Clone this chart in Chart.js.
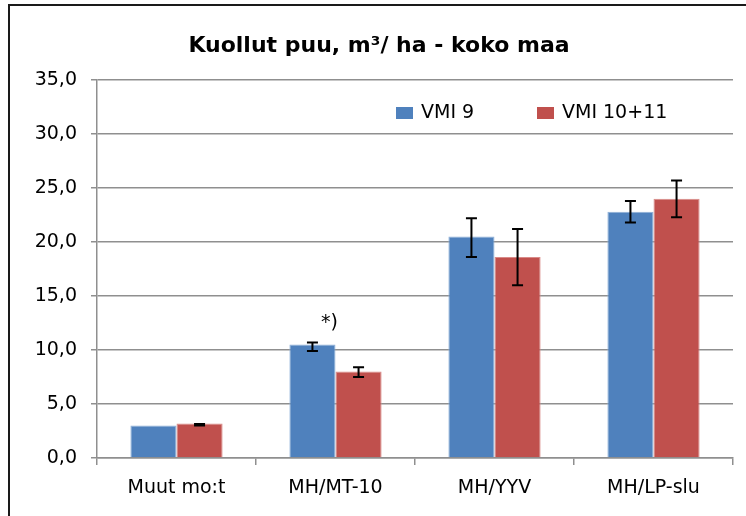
<!DOCTYPE html>
<html>
<head>
<meta charset="utf-8">
<script src="https://cdn.jsdelivr.net/npm/chart.js@4"></script>
<style>
  html, body { margin: 0; padding: 0; background: #fff; }
  #wrap { width: 746px; height: 516px; }
</style>
</head>
<body>
<div id="wrap"><canvas id="chart" width="746" height="516"></canvas></div>
<script>
// chart values
const categories = ['Muut mo:t', 'MH/MT-10', 'MH/YYV', 'MH/LP-slu'];
const seriesNames = ['VMI 9', 'VMI 10+11'];
const vmi9 = [3.0, 10.5, 20.5, 22.8];
const vmi9Low = [3.0, 9.9, 18.6, 21.8];
const vmi9High = [3.0, 10.7, 22.2, 23.8];
const vmi1011 = [3.2, 8.0, 18.6, 24.0];
const vmi1011Low = [3.0, 7.5, 16.0, 22.3];
const vmi1011High = [3.15, 8.4, 21.2, 25.7];
const yMin = 0, yMax = 35, yStep = 5;
const noteText = '*)';
const noteCategory = 1;
const noteValue = 12.5;

const blue = '#4F81BD';
const red = '#C0504D';
const gridGray = '#8f8f8f';
const fontFamily = 'DejaVu Sans';

// white background + outer frame
const framePlugin = {
    id: 'frame',
    beforeDraw(chart) {
        const ctx = chart.ctx;
        ctx.save();
        ctx.fillStyle = '#fff';
        ctx.fillRect(0, 0, chart.width, chart.height);
        ctx.strokeStyle = '#1a1a1a';
        ctx.lineWidth = 2;
        ctx.beginPath();
        ctx.moveTo(9, chart.height);
        ctx.lineTo(9, 5);
        ctx.lineTo(chart.width, 5);
        ctx.stroke();
        ctx.restore();
    }
};

// error bars, drawn on top of each bar
const errorBarPlugin = {
    id: 'errorBars',
    afterDatasetsDraw(chart) {
        const ctx = chart.ctx;
        const yScale = chart.scales.y;
        ctx.save();
        ctx.strokeStyle = '#000';
        ctx.lineWidth = 2;
        chart.data.datasets.forEach((ds, i) => {
            const meta = chart.getDatasetMeta(i);
            meta.data.forEach((bar, j) => {
                const lo = ds.errLow[j], hi = ds.errHigh[j];
                if (lo === hi) return;
                const yLo = yScale.getPixelForValue(lo);
                const yHi = yScale.getPixelForValue(hi);
                const x = bar.x;
                ctx.beginPath();
                ctx.moveTo(x, yLo); ctx.lineTo(x, yHi);
                ctx.moveTo(x - 5.5, yLo); ctx.lineTo(x + 5.5, yLo);
                ctx.moveTo(x - 5.5, yHi); ctx.lineTo(x + 5.5, yHi);
                ctx.stroke();
            });
        });
        ctx.restore();
    }
};

// legend inside the plot and the "*)" note
const legendNotePlugin = {
    id: 'legendNote',
    afterDraw(chart) {
        const ctx = chart.ctx;
        const area = chart.chartArea;
        const yScale = chart.scales.y;
        const xScale = chart.scales.x;
        ctx.save();
        ctx.font = '19px "' + fontFamily + '"';
        ctx.textBaseline = 'middle';
        ctx.fillStyle = '#000';
        const ly = area.top + 33;
        const starts = [396, 537];
        chart.data.datasets.forEach((ds, i) => {
            ctx.fillStyle = ds.backgroundColor;
            ctx.fillRect(starts[i], ly - 6, 17, 12);
            ctx.fillStyle = '#000';
            ctx.fillText(ds.label, starts[i] + 25, ly);
        });
        ctx.textAlign = 'center';
        ctx.fillText(noteText, xScale.getPixelForValue(noteCategory) - 6, yScale.getPixelForValue(noteValue));
        ctx.restore();
    }
};

const ctx = document.getElementById('chart').getContext('2d');
new Chart(ctx, {
    type: 'bar',
    data: {
        labels: categories,
        datasets: [{
            label: seriesNames[0],
            data: vmi9,
            errLow: vmi9Low,
            errHigh: vmi9High,
            backgroundColor: blue,
            borderColor: '#8fb0d8',
            borderWidth: 1
        }, {
            label: seriesNames[1],
            data: vmi1011,
            errLow: vmi1011Low,
            errHigh: vmi1011High,
            backgroundColor: red,
            borderColor: '#d98a88',
            borderWidth: 1
        }]
    },
    options: {
        responsive: false,
        animation: false,
        categoryPercentage: 0.58,
        barPercentage: 1.0,
        // left padding pushes the title to the right, y axis width makes up the rest
        layout: { padding: { left: 25, right: 13, top: 0, bottom: 0 } },
        plugins: {
            legend: { display: false },
            tooltip: { enabled: false },
            title: {
                display: true,
                text: 'Kuollut puu, m³/ ha - koko maa',
                color: '#000',
                font: { family: fontFamily, size: 22, weight: 'bold', lineHeight: 1.2 },
                padding: { top: 33, bottom: 20.6 }
            }
        },
        scales: {
            x: {
                grid: { display: true, drawOnChartArea: false, drawTicks: true, tickLength: 7, color: gridGray, lineWidth: 1.5 },
                border: { color: gridGray, width: 1.5 },
                ticks: { color: '#000', padding: 12, font: { family: fontFamily, size: 19 } },
                afterFit(scale) { scale.height = 58; }
            },
            y: {
                min: yMin,
                max: yMax,
                grid: { color: gridGray, lineWidth: 1.5, tickLength: 6 },
                border: { color: gridGray, width: 1.5 },
                ticks: {
                    stepSize: yStep,
                    color: '#000',
                    padding: 14,
                    font: { family: fontFamily, size: 19 },
                    callback: v => v.toFixed(1).replace('.', ',')
                },
                afterFit(scale) { scale.width = 72; }
            }
        }
    },
    plugins: [framePlugin, errorBarPlugin, legendNotePlugin]
});
</script>
</body>
</html>
